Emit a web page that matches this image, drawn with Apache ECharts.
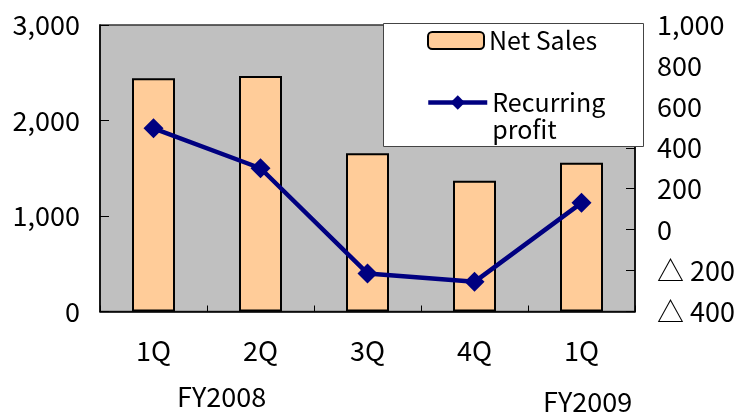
<!DOCTYPE html>
<html>
<head>
<meta charset="utf-8">
<script src="https://cdn.jsdelivr.net/npm/echarts@6/dist/echarts.min.js"></script>
<style>
html,body{margin:0;padding:0;background:#fff;}
#c{width:742px;height:413px;}
</style>
</head>
<body>
<div id="c"></div>
<script>
var categories = ['1Q', '2Q', '3Q', '4Q', '1Q'];
var netSales = [2442, 2466, 1657, 1370, 1558];
var recurringProfit = [495, 300, -214, -255, 131];
var yearLabels = ['FY2008', 'FY2009'];

var FONT = '"Noto Sans CJK JP", "Noto Sans", sans-serif';
var chart = echarts.init(document.getElementById('c'));

function fmtThousands(v) {
  return String(v).replace(/\B(?=(\d{3})+(?!\d))/g, ',');
}

chart.setOption({
  animation: false,
  backgroundColor: '#ffffff',
  grid: {
    left: 100, right: 107, top: 25, bottom: 101.5,
    show: true, backgroundColor: '#c0c0c0', borderColor: '#333', borderWidth: 1.5
  },
  legend: [
    {
      data: ['Net Sales'],
      left: 427, top: 27, padding: 0,
      itemWidth: 56, itemHeight: 17,
      z: 20,
      textStyle: { fontFamily: FONT, fontSize: 25, color: '#000', lineHeight: 27 }
    },
    {
      data: ['Recurring profit'],
      left: 426, top: 62, padding: 0,
      itemWidth: 59, itemHeight: 18,
      z: 20,
      formatter: function () { return '\nRecurring\nprofit'; },
      lineStyle: { width: 4.5, color: '#000080' },
      textStyle: { fontFamily: FONT, fontSize: 25, color: '#000', lineHeight: 27 }
    }
  ],
  xAxis: {
    type: 'category',
    data: categories,
    axisLine: { lineStyle: { color: '#000', width: 1.5 } },
    axisTick: { show: true, inside: true, length: 6, lineStyle: { color: '#000' } },
    axisLabel: { fontFamily: FONT, fontSize: 27, color: '#000', margin: 26 }
  },
  yAxis: [
    {
      type: 'value', min: 0, max: 3000, interval: 1000,
      axisLine: { show: true, lineStyle: { color: '#000', width: 1.5 } },
      axisTick: { show: true, inside: true, length: 9, lineStyle: { color: '#000' } },
      splitLine: { show: false },
      axisLabel: { fontFamily: FONT, fontSize: 27, color: '#000', margin: 20,
        formatter: function (v) { return fmtThousands(v); } }
    },
    {
      type: 'value', min: -400, max: 1000, interval: 200,
      axisLine: { show: true, lineStyle: { color: '#000', width: 1.5 } },
      axisTick: { show: true, inside: true, length: 9, lineStyle: { color: '#000' } },
      splitLine: { show: false },
      axisLabel: { fontFamily: FONT, fontSize: 27, color: '#000', margin: 22,
        formatter: function (v) { return v < 0 ? '\u25b3 ' + fmtThousands(-v) : fmtThousands(v); } }
    }
  ],
  graphic: [
    {
      type: 'rect', z: 10,
      shape: { x: 383.5, y: 23.5, width: 260, height: 123 },
      style: { fill: '#ffffff', stroke: '#444', lineWidth: 1 }
    },
    {
      type: 'text', left: 177, top: 383, z: 10,
      style: { text: yearLabels[0], font: '27px ' + FONT, fill: '#000' }
    },
    {
      type: 'text', left: 543, top: 388, z: 10,
      style: { text: yearLabels[1], font: '27px ' + FONT, fill: '#000' }
    }
  ],
  series: [
    {
      name: 'Net Sales', type: 'bar', yAxisIndex: 0,
      data: netSales, barWidth: 43,
      itemStyle: { color: '#ffcc99', borderColor: '#000', borderWidth: 2 }
    },
    {
      name: 'Recurring profit', type: 'line', yAxisIndex: 1,
      data: recurringProfit,
      symbol: 'diamond', symbolSize: 20,
      lineStyle: { color: '#000080', width: 4.5 },
      itemStyle: { color: '#000080' }
    }
  ]
});
</script>
</body>
</html>
